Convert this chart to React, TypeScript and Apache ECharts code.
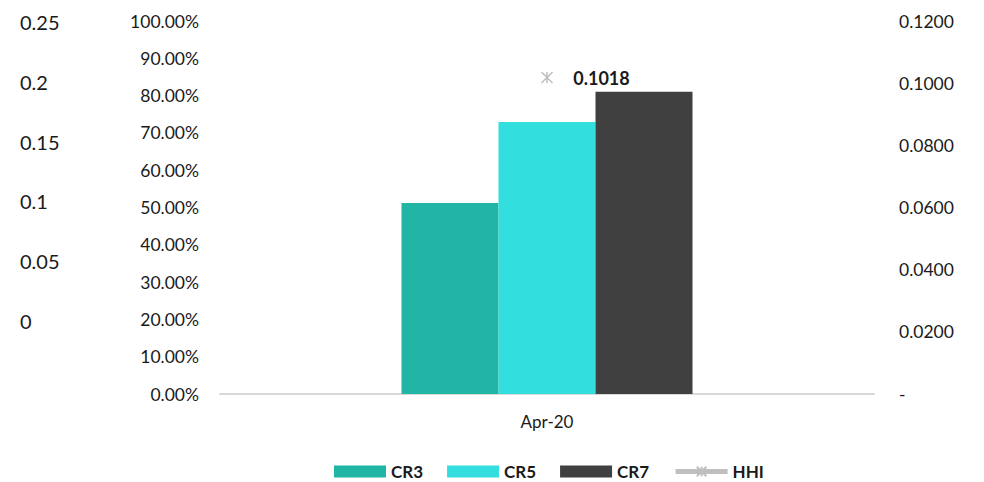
import React, { useEffect, useRef } from "react";
import * as echarts from "echarts";

const categories = ["Apr-20"];
const cr3 = [0.512];
const cr5 = [0.729];
const cr7 = [0.81];
const hhi = [0.1018];

const pctTicks = { min: 0, max: 1, interval: 0.1 };
const hhiTicks = { min: 0, max: 0.12, interval: 0.02 };
const extraTicks = { min: 0, max: 0.25, interval: 0.05 };

const FONT = "Lato";
const TXT = "#1a1a1a";

export default function App() {
  const ref = useRef<HTMLDivElement>(null);
  useEffect(() => {
    if (!ref.current) return;
    const chart = echarts.init(ref.current, null, { renderer: "svg" });
    const star = "path://M0,0L10,10M10,0L0,10M5,0L5,10";
    chart.setOption({
      animation: false,
      textStyle: { fontFamily: FONT },
      grid: [
        { left: 220, right: 110, top: 21, bottom: 88 },
        { left: 20, width: 10, top: 22, height: 299 },
      ],
      legend: {
        left: 329,
        top: 458,
        itemWidth: 52,
        itemHeight: 12,
        itemGap: 24,
        textStyle: { fontFamily: FONT, fontSize: 17, fontWeight: "bold", color: TXT },
        data: [
          { name: "CR3", icon: "rect" },
          { name: "CR5", icon: "rect" },
          { name: "CR7", icon: "rect" },
          { name: "HHI", lineStyle: { width: 5, color: "#BFBFBF" } },
        ],
      },
      xAxis: [
        {
          type: "category",
          gridIndex: 0,
          data: categories,
          axisTick: { show: false },
          axisLine: { lineStyle: { color: "#d9d9d9", width: 2 } },
          axisLabel: { margin: 19, fontSize: 17, color: TXT, fontFamily: FONT },
        },
        { type: "value", gridIndex: 1, show: false },
      ],
      yAxis: [
        {
          type: "value",
          gridIndex: 0,
          ...pctTicks,
          splitLine: { show: false },
          axisLine: { show: false },
          axisTick: { show: false },
          axisLabel: {
            margin: 21,
            fontSize: 17.5,
            color: TXT,
            fontFamily: FONT,
            formatter: (v: number) => (v * 100).toFixed(2) + "%",
          },
        },
        {
          type: "value",
          gridIndex: 0,
          position: "right",
          ...hhiTicks,
          splitLine: { show: false },
          axisLine: { show: false },
          axisTick: { show: false },
          axisLabel: {
            margin: 25,
            fontSize: 17.5,
            color: TXT,
            fontFamily: FONT,
            formatter: (v: number) => (v === 0 ? "-" : v.toFixed(4)),
          },
        },
        {
          type: "value",
          gridIndex: 1,
          position: "left",
          ...extraTicks,
          splitLine: { show: false },
          axisLine: { show: false },
          axisTick: { show: false },
          axisLabel: {
            margin: 0,
            align: "left",
            fontSize: 20,
            color: TXT,
            fontFamily: FONT,
            formatter: (v: number) => String(parseFloat(v.toFixed(2))),
          },
        },
      ],
      series: [
        { name: "CR3", type: "bar", xAxisIndex: 0, yAxisIndex: 0, data: cr3, barWidth: 97, barGap: "0%", itemStyle: { color: "#21B5A5" } },
        { name: "CR5", type: "bar", xAxisIndex: 0, yAxisIndex: 0, data: cr5, barWidth: 97, barGap: "0%", itemStyle: { color: "#33DEDE" } },
        { name: "CR7", type: "bar", xAxisIndex: 0, yAxisIndex: 0, data: cr7, barWidth: 97, barGap: "0%", itemStyle: { color: "#404040" } },
        {
          name: "HHI",
          type: "line",
          xAxisIndex: 0,
          yAxisIndex: 1,
          data: hhi,
          symbol: star,
          symbolSize: 11,
          itemStyle: { color: "#BFBFBF", borderColor: "#BFBFBF", borderWidth: 1.5 },
          lineStyle: { color: "#BFBFBF", width: 5 },
          label: {
            show: true,
            position: "right",
            distance: 20,
            fontSize: 18,
            fontWeight: "bold",
            color: TXT,
            fontFamily: FONT,
            formatter: (p: any) => Number(p.value).toFixed(4),
          },
        },
      ],
    });
    return () => chart.dispose();
  }, []);
  return <div ref={ref} style={{ width: 984, height: 482, position: "absolute", left: 0, top: 0 }} />;
}
